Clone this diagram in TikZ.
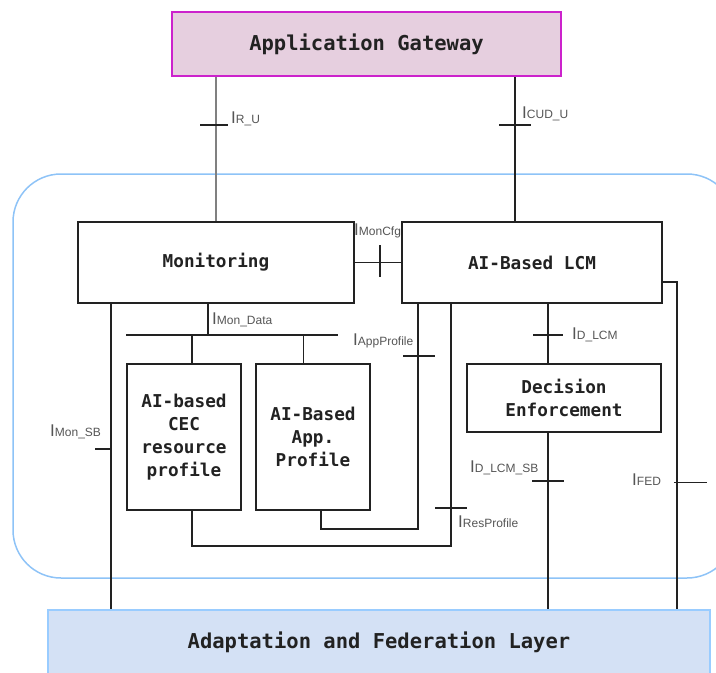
\documentclass[tikz,border=0pt]{standalone}
\usepackage{fontspec}
\newfontfamily\boxfont{DejaVu Sans Mono}
\newfontfamily\labfont{Liberation Sans}
\usetikzlibrary{calc}

\definecolor{gwfill}{HTML}{E6CFDF}
\definecolor{gwdraw}{HTML}{CC22CC}
\definecolor{layfill}{HTML}{D4E1F5}
\definecolor{laydraw}{HTML}{99CCFF}
\definecolor{domain}{HTML}{8EC3F7}
\definecolor{ink}{HTML}{222222}
\definecolor{labgray}{HTML}{555555}

% interface name: a large I followed by a small suffix
\newcommand{\ifname}[1]{{\fontsize{17}{17}\selectfont I}{\fontsize{12}{12}\selectfont #1}}

\tikzset{
  block/.style={draw=ink, line width=1.8, fill=white, text=ink, inner sep=0,
    align=center, font=\boxfont\bfseries\fontsize{17.7}{23}\selectfont},
  bigblock/.style={block, font=\boxfont\bfseries\fontsize{20.5}{24}\selectfont},
  conn/.style={draw=ink, line width=1.4},
  grayconn/.style={draw=black!50, line width=2.2},
  tick/.style={draw=ink, line width=1.4},
  iflabel/.style={anchor=base west, inner sep=0, text=labgray, font=\labfont},
  domainbox/.style={draw=domain, line width=1.5, rounded corners=48}
}

\begin{document}
\begin{tikzpicture}[x=1pt, y=-1pt]
  \useasboundingbox (0,0) rectangle (716,673);
  \clip (0,0) rectangle (716,673);

  % edge domain enclosing the management functions
  \draw[domainbox] (13,174) rectangle (735,578);

  % functional blocks
  \node[bigblock, fill=gwfill, draw=gwdraw, minimum width=389, minimum height=64]
    (ag) at (366.5,44.3) {Application Gateway};
  \node[block, minimum width=276, minimum height=81] (mon) at (216,262.5) {Monitoring};
  \node[block, minimum width=260, minimum height=81] (lcm) at (532,262.5) {AI-Based LCM};
  \node[block, minimum width=114, minimum height=146] (cec) at (184,437)
    {AI-based\\CEC\\resource\\profile};
  \node[block, minimum width=114, minimum height=146] (app) at (313,437)
    {AI-Based\\App.\\Profile};
  \node[block, minimum width=194.5, minimum height=68] (dec) at (564,398)
    {Decision\\Enforcement};
  \node[bigblock, fill=layfill, draw=laydraw, line width=1.5, minimum width=662,
    minimum height=90, text height=10, text depth=23]
    (layer) at (379,655) {Adaptation and Federation Layer};

  % reference x positions and corners of the connectors
  \coordinate (xcud) at (515,0);
  \coordinate (xmonsb) at (111,0);
  \coordinate (bus) at (208,335);
  \coordinate (busR) at (338,335);
  \coordinate (xcec) at (192,0);
  \coordinate (xappin) at (303.5,0);
  \coordinate (xappout) at (321,0);
  \coordinate (appCorner) at (418,529);
  \coordinate (resCorner) at (451,546);
  \coordinate (xdec) at (548,0);
  \coordinate (fedCorner) at (677,282);

  % connectors
  \draw[grayconn] (ag.south -| mon.north) -- (mon.north);
  \draw[conn] (ag.south -| xcud) -- (lcm.north -| xcud);
  \draw[conn] (mon.east) -- (lcm.west);
  \draw[conn] (mon.south -| xmonsb) -- (layer.north -| xmonsb);
  \draw[conn] (mon.south -| bus) -- (bus);
  \draw[conn] (cec.west |- bus) -- (busR);
  \draw[conn] (xcec |- bus) -- (cec.north -| xcec);
  \draw[conn] (xappin |- bus) -- (app.north -| xappin);
  \draw[conn] (app.south -| xappout) |- (appCorner) -- (lcm.south -| appCorner);
  \draw[conn] (cec.south -| xcec) |- (resCorner) -- (lcm.south -| resCorner);
  \draw[conn] (lcm.south -| xdec) -- (dec.north -| xdec);
  \draw[conn] (dec.south -| xdec) -- (layer.north -| xdec);
  \draw[conn] (lcm.east |- fedCorner) -- (fedCorner) -- (layer.north -| fedCorner);

  % interface ticks
  \draw[tick] (200,125) -- (228,125);
  \draw[tick] (499,125) -- (531,125);
  \draw[tick] (380,245) -- (380,277);
  \draw[tick] (533,335) -- (563,335);
  \draw[tick] (403,356) -- (435,356);
  \draw[tick] (95,449) -- (111,449);
  \draw[tick] (532,481) -- (564,481);
  \draw[tick] (674,482.5) -- (707,482.5);
  \draw[tick] (435,508) -- (467,508);

  % interface names
  \node[iflabel] (lru)   at (231,123)   {\ifname{R\_U}};
  \node[iflabel] (lcud)  at (522,118)   {\ifname{CUD\_U}};
  \node[iflabel] (lcfg)  at (354,235)   {\ifname{MonCfg}};
  \node[iflabel] (ldata) at (212,324)   {\ifname{Mon\_Data}};
  \node[iflabel] (lappp) at (353,345)   {\ifname{AppProfile}};
  \node[iflabel] (ldlcm) at (572,339)   {\ifname{D\_LCM}};
  \node[iflabel] (lmsb)  at (50,436)    {\ifname{Mon\_SB}};
  \node[iflabel] (ldsb)  at (470,472)   {\ifname{D\_LCM\_SB}};
  \node[iflabel] (lfed)  at (632,485)   {\ifname{FED}};
  \node[iflabel] (lres)  at (458,527)   {\ifname{ResProfile}};
\end{tikzpicture}
\end{document}
